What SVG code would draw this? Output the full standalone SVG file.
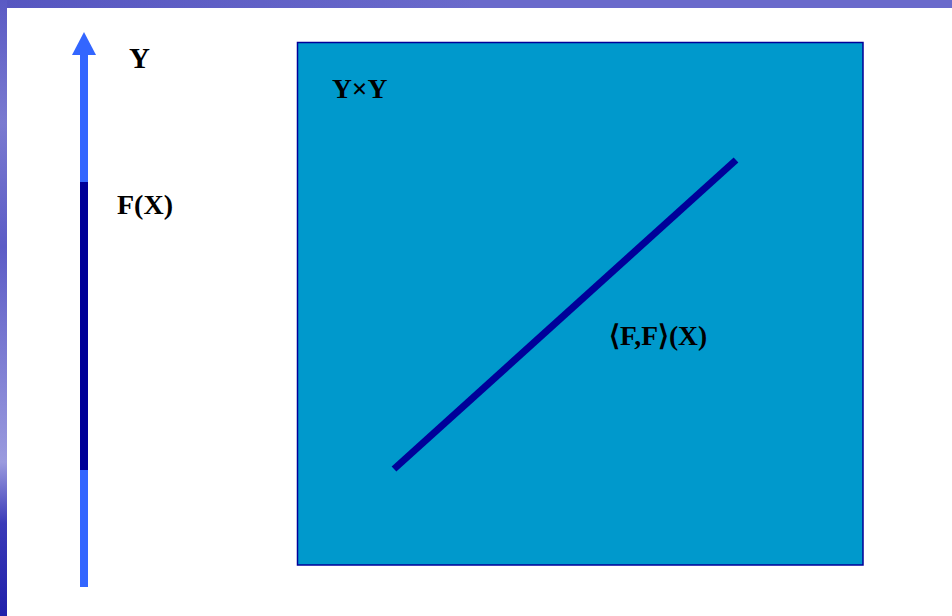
<svg xmlns="http://www.w3.org/2000/svg" width="952" height="616" viewBox="0 0 952 616">
<style>
.t{font-family:"Liberation Serif","Times New Roman",serif;font-weight:bold;fill:#000}
</style>
<defs>
<linearGradient id="lb" x1="0" y1="0" x2="0" y2="1">
<stop offset="0" stop-color="#5a5ac4"/>
<stop offset="0.2" stop-color="#7a7ad0"/>
<stop offset="0.4" stop-color="#5c5cc6"/>
<stop offset="0.6" stop-color="#8080d4"/>
<stop offset="0.75" stop-color="#9a9ade"/>
<stop offset="0.85" stop-color="#3a3ab8"/>
<stop offset="1" stop-color="#2020aa"/>
</linearGradient>
<linearGradient id="tb" x1="0" y1="0" x2="1" y2="0">
<stop offset="0" stop-color="#5656c0"/>
<stop offset="0.5" stop-color="#6a6acb"/>
<stop offset="1" stop-color="#6a6acb"/>
</linearGradient>
</defs>
<rect x="0" y="0" width="952" height="616" fill="#ffffff"/>
<rect x="0" y="0" width="952" height="8" fill="url(#tb)"/>
<rect x="0" y="0" width="7" height="616" fill="url(#lb)"/>
<g id="axis">
<rect x="80" y="54" width="8" height="533" fill="#3366ff"/>
<rect x="80" y="182" width="8" height="288" fill="#000099"/>
<polygon points="84,32 72,55 96,55" fill="#3366ff"/>
</g>
<g id="product">
<rect x="297.5" y="42.5" width="565.5" height="522.5" fill="#0099cc" stroke="#000099" stroke-width="1.5"/>
</g>
<g id="connectors">
<line x1="394" y1="469" x2="736" y2="160" stroke="#000099" stroke-width="7"/>
</g>
<g id="labels">
<text class="t" x="129" y="68" font-size="29">Y</text>
<text class="t" x="117" y="214" font-size="28">F(X)</text>
<text class="t" x="332" y="98" font-size="27.5">Y×Y</text>
<text class="t" x="609" y="345" font-size="27.5">⟨F,F⟩(X)</text>
</g>
</svg>
